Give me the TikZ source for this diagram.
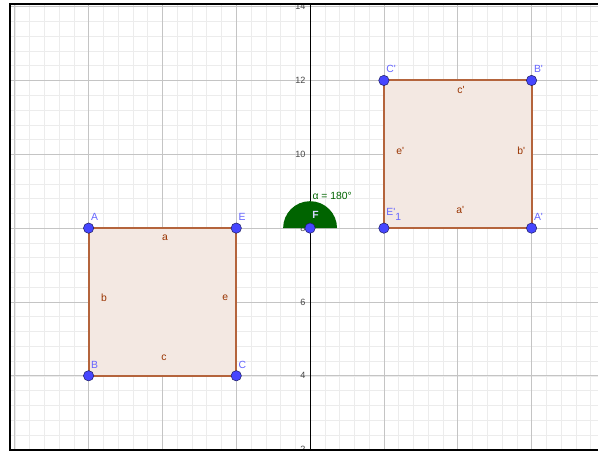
\documentclass[tikz,border=0pt]{standalone}
\usepackage{fontspec}
\setmainfont{Liberation Sans}
\usetikzlibrary{calc}
\definecolor{gridmaj}{RGB}{196,196,196}
\definecolor{gridmin}{RGB}{236,236,236}
\definecolor{edgec}{RGB}{180,100,60}
\definecolor{polyfill}{RGB}{243,232,226}
\definecolor{ptfill}{RGB}{70,70,255}
\definecolor{ptdraw}{RGB}{30,30,100}
\definecolor{ptlabel}{RGB}{100,100,255}
\definecolor{seglabel}{RGB}{153,51,0}
\definecolor{anggreen}{RGB}{0,100,0}
\definecolor{axlabel}{RGB}{70,70,70}
\definecolor{flabel}{RGB}{215,215,255}
\begin{document}
\begin{tikzpicture}[x=1cm,y=1cm,font=\fontsize{8}{9.5}\selectfont,
  pt/.style={circle,fill=ptfill,draw=ptdraw,line width=0.4pt,inner sep=0pt,minimum size=2.8mm},
  plabel/.style={text=ptlabel,anchor=south west,inner sep=0pt},
  slabel/.style={text=seglabel,inner sep=0pt},
  axlab/.style={text=axlabel,anchor=east,inner sep=0pt,font=\fontsize{7}{8}\selectfont},
  edgeline/.style={draw=edgec,line width=1.6pt},
  polyarea/.style={fill=polyfill}]
\useasboundingbox (-8.40,1.96) rectangle (7.80,14.18);
\begin{scope}
\clip (-8.13,2.0) rectangle (7.80,14.07);
\draw[gridmin,line width=0.4pt,step=0.4] (-8.8,1.6) grid (8.0,14.4);
\draw[gridmaj,line width=0.5pt,step=2] (-10,0) grid (8,16);
\draw[black,line width=0.8pt] (0,1.9) -- (0,14.2);
\foreach \yv in {2,4,6,8,10,12,14} \node[axlab] (ylab\yv) at (-0.12,\yv) {\yv};
\end{scope}
% frame
\draw[black,line width=1.5pt] (7.80,14.07) -- (-8.13,14.07) -- (-8.13,2.0) -- (7.80,2.0);
% points
\coordinate (A) at (-6,8);
\coordinate (E) at (-2,8);
\coordinate (C) at (-2,4);
\coordinate (B) at (-6,4);
\coordinate (E1) at (2,8);
\coordinate (Ap) at (6,8);
\coordinate (Bp) at (6,12);
\coordinate (Cp) at (2,12);
\coordinate (F) at (0,8);
% polygons
\fill[polyarea] (A) -- (E) -- (C) -- (B) -- cycle;
\fill[polyarea] (E1) -- (Ap) -- (Bp) -- (Cp) -- cycle;
\draw[edgeline] (A) -- (E);
\draw[edgeline] (E) -- (C);
\draw[edgeline] (C) -- (B);
\draw[edgeline] (B) -- (A);
\draw[edgeline] (E1) -- (Ap);
\draw[edgeline] (Ap) -- (Bp);
\draw[edgeline] (Bp) -- (Cp);
\draw[edgeline] (Cp) -- (E1);
% segment labels
\node[slabel] (la) at (-3.93,7.73) {a};
\node[slabel] (lb) at (-5.58,6.10) {b};
\node[slabel] (le) at (-2.30,6.10) {e};
\node[slabel] (lc) at (-3.96,4.48) {c};
\node[slabel] (lcp) at (4.09,11.74) {c\textquotesingle};
\node[slabel] (lep) at (2.44,10.09) {e\textquotesingle};
\node[slabel] (lbp) at (5.72,10.09) {b\textquotesingle};
\node[slabel] (lap) at (4.07,8.49) {a\textquotesingle};
% angle
\fill[anggreen] (F) -- ++(0.73,0) arc (0:180:0.73) -- cycle;
\node[text=anggreen,anchor=west,inner sep=0pt] (alpha) at (0.06,8.87) {α = 180°};
% point markers
\foreach \p in {A,E,C,B,E1,Ap,Bp,Cp,F} \node[pt] (m\p) at (\p) {};
% point labels
\node[plabel] (tA) at ($(A)+(0.06,0.2)$) {A};
\node[plabel] (tE) at ($(E)+(0.06,0.2)$) {E};
\node[plabel] (tB) at ($(B)+(0.06,0.2)$) {B};
\node[plabel] (tC) at ($(C)+(0.06,0.2)$) {C};
\node[plabel] (tCp) at ($(Cp)+(0.06,0.2)$) {C\textquotesingle};
\node[plabel] (tBp) at ($(Bp)+(0.06,0.2)$) {B\textquotesingle};
\node[plabel] (tAp) at ($(Ap)+(0.06,0.2)$) {A\textquotesingle};
\node[plabel] (tE1) at ($(E1)+(0.06,0.2)$) {E\textquotesingle\raisebox{-0.9ex}{1}};
\node[text=flabel,inner sep=0pt,font=\fontsize{8}{9.5}\selectfont\bfseries] (tF) at (0.15,8.35) {F};
\end{tikzpicture}
\end{document}
